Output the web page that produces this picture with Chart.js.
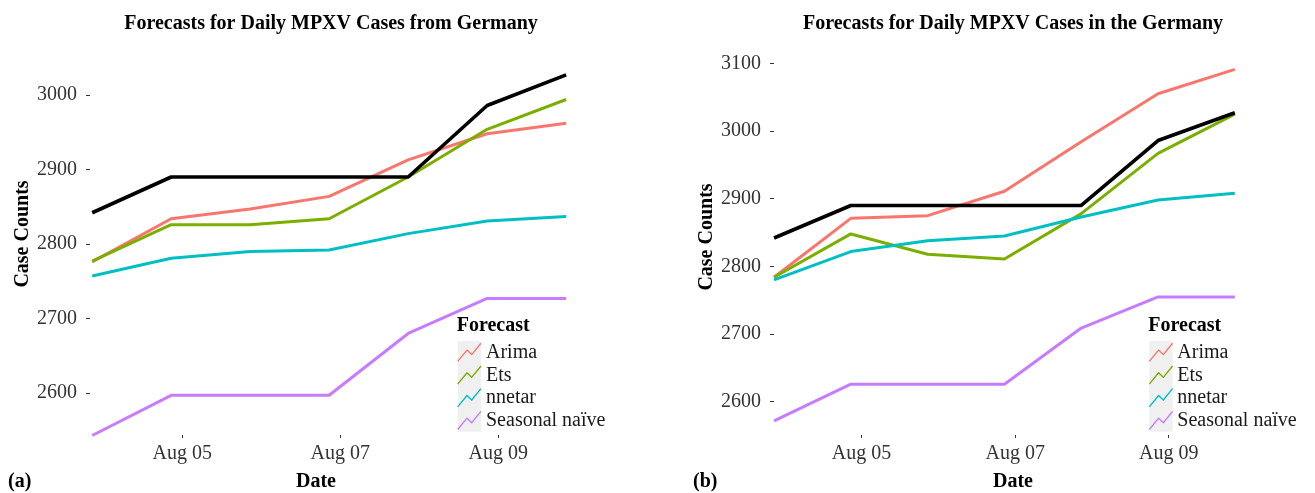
<!DOCTYPE html>
<html>
<head>
<meta charset="utf-8">
<script src="https://cdn.jsdelivr.net/npm/chart.js@4.4.0/dist/chart.umd.min.js"></script>
<style>
  html, body { margin: 0; padding: 0; background: #ffffff; width: 1315px; height: 493px; overflow: hidden; }
  canvas { position: absolute; top: 0; }
  #panelA { left: 0; }
  #panelB { left: 657px; }
</style>
</head>
<body>
<canvas id="panelA" width="657" height="493"></canvas>
<canvas id="panelB" width="658" height="493"></canvas>
<script>
// Forecast dates, as fractional day of August 2022
const forecastDays = [3.86, 4.86, 5.86, 6.86, 7.86, 8.86, 9.86];
const dateTickDays = [5, 7, 9];
const dateTickLabels = ['Aug 05', 'Aug 07', 'Aug 09'];

const methodNames = ['Arima', 'Ets', 'nnetar', 'Seasonal naïve'];
const methodColors = ['#F8766D', '#7CAE00', '#00BFC4', '#C77CFF'];

// Observed daily case counts
const observed = [2842, 2890, 2890, 2890, 2890, 2986, 3027];

// Panel (a) forecasts
const arimaA  = [2776, 2834, 2847, 2864, 2913, 2948, 2962];
const etsA    = [2777, 2826, 2826, 2834, 2890, 2954, 2994];
const nnetarA = [2757, 2781, 2790, 2792, 2814, 2831, 2837];
const snaiveA = [2543, 2597, 2597, 2597, 2680, 2727, 2727];
const caseTicksA = [2600, 2700, 2800, 2900, 3000];

// Panel (b) forecasts
const arimaB  = [2784, 2871, 2875, 2911, 2984, 3055, 3091];
const etsB    = [2784, 2848, 2818, 2811, 2878, 2967, 3025];
const nnetarB = [2780, 2822, 2838, 2845, 2873, 2898, 2908];
const snaiveB = [2572, 2626, 2626, 2626, 2709, 2755, 2755];
const caseTicksB = [2600, 2700, 2800, 2900, 3000, 3100];

const SERIF = "'Liberation Serif', 'Times New Roman', serif";

function toPoints(values) {
  return values.map((v, i) => ({ x: forecastDays[i], y: v }));
}

function lineSet(label, values, color, width, inLegend) {
  return {
    label, data: toPoints(values), borderColor: color, backgroundColor: color,
    borderWidth: width, pointRadius: 0, tension: 0, fill: false, clip: false,
    borderCapStyle: 'butt', borderJoinStyle: 'round', inLegend
  };
}

// Titles, axis titles, panel tag and the in-panel "Forecast" legend
const panelDecor = {
  id: 'panelDecor',
  afterDraw(chart, args, o) {
    const ctx = chart.ctx;
    ctx.save();
    ctx.fillStyle = '#000';
    ctx.textBaseline = 'alphabetic';
    ctx.font = `bold 20px ${SERIF}`;
    ctx.textAlign = 'center';
    ctx.fillText(o.title, o.titleX, o.titleY);
    ctx.fillText('Date', o.dateX, o.dateY);
    ctx.textAlign = 'left';
    ctx.fillText(o.tag, o.tagX, o.dateY);
    ctx.save();
    ctx.translate(o.yTitleX, o.yTitleY);
    ctx.rotate(-Math.PI / 2);
    ctx.textAlign = 'center';
    ctx.fillText('Case Counts', 0, 0);
    ctx.restore();

    // legend
    const items = chart.data.datasets.filter(d => d.inLegend)
      .sort((a, b) => methodNames.indexOf(a.label) - methodNames.indexOf(b.label));
    const kw = 23.3, kh = 22.7;
    ctx.textAlign = 'left';
    ctx.fillText('Forecast', o.legendX, o.legendTitleY);
    ctx.fillStyle = '#f0f0f0';
    ctx.fillRect(o.legendX + 1, o.keyTop, kw, kh * items.length);
    const zig = [[0, 0.9], [0.4, 0.4], [0.6, 0.6], [1, 0.1]];
    ctx.font = `20px ${SERIF}`;
    items.forEach((d, i) => {
      const x0 = o.legendX + 1, y0 = o.keyTop + i * kh;
      ctx.strokeStyle = d.borderColor;
      ctx.lineWidth = 1.4;
      ctx.lineJoin = 'round';
      ctx.beginPath();
      zig.forEach(([px, py], j) => {
        const X = x0 + px * kw, Y = y0 + py * kh;
        if (j === 0) ctx.moveTo(X, Y); else ctx.lineTo(X, Y);
      });
      ctx.stroke();
      ctx.fillStyle = '#1a1a1a';
      ctx.fillText(d.label, o.labelX, y0 + kh / 2 + 5.5);
    });
    ctx.restore();
  }
};

function makePanel(id, series, caseTicks, geom, decor) {
  const datasets = [
    lineSet('Actual', observed, '#000000', 3.6, false),
    lineSet(methodNames[3], series[3], methodColors[3], 3, true),
    lineSet(methodNames[2], series[2], methodColors[2], 3, true),
    lineSet(methodNames[1], series[1], methodColors[1], 3, true),
    lineSet(methodNames[0], series[0], methodColors[0], 3, true)
  ];
  const canvas = document.getElementById(id);
  return new Chart(canvas, {
    type: 'line',
    data: { datasets },
    plugins: [panelDecor],
    options: {
      responsive: false,
      animation: false,
      devicePixelRatio: 1,
      layout: { padding: { top: geom.top, right: canvas.width - geom.right, left: 0, bottom: 0 } },
      plugins: {
        legend: { display: false },
        tooltip: { enabled: false },
        title: { display: false },
        panelDecor: decor
      },
      scales: {
        x: {
          type: 'linear',
          min: geom.xMin, max: geom.xMax,
          afterBuildTicks: s => { s.ticks = dateTickDays.map(v => ({ value: v })); },
          afterFit: s => { s.height = canvas.height - geom.bottom; },
          ticks: {
            callback: v => dateTickLabels[dateTickDays.indexOf(v)],
            font: { family: SERIF, size: 20 }, color: '#333', padding: 4,
            maxRotation: 0, autoSkip: false
          },
          grid: { display: true, drawOnChartArea: false, drawTicks: true, tickLength: 3, color: '#333', lineWidth: 1 },
          border: { display: false }
        },
        y: {
          type: 'linear',
          min: geom.yMin, max: geom.yMax,
          afterBuildTicks: s => { s.ticks = caseTicks.map(v => ({ value: v })); },
          afterFit: s => { s.width = geom.left; },
          ticks: {
            callback: v => String(v),
            font: { family: SERIF, size: 20 }, color: '#333', padding: 9
          },
          grid: { display: true, drawOnChartArea: false, drawTicks: true, tickLength: 3.5, color: '#333', lineWidth: 1 },
          border: { display: false }
        }
      }
    }
  });
}

makePanel('panelA', [arimaA, etsA, nnetarA, snaiveA], caseTicksA,
  { left: 89.5, right: 569.3, top: 70, bottom: 435, xMin: 3.826, xMax: 9.9, yMin: 2543.7, yMax: 3033.6 },
  { title: 'Forecasts for Daily MPXV Cases from Germany', titleX: 331, titleY: 29,
    dateX: 316, dateY: 487, tag: '(a)', tagX: 8, yTitleX: 28, yTitleY: 234,
    legendX: 456.7, legendTitleY: 330.7, keyTop: 341, labelX: 486 });

makePanel('panelB', [arimaB, etsB, nnetarB, snaiveB], caseTicksB,
  { left: 116.5, right: 580.9, top: 55, bottom: 435, xMin: 3.853, xMax: 9.9, yMin: 2551, yMax: 3112.3 },
  { title: 'Forecasts for Daily MPXV Cases in the Germany', titleX: 356, titleY: 29,
    dateX: 356, dateY: 487, tag: '(b)', tagX: 36, yTitleX: 54.5, yTitleY: 237,
    legendX: 491.3, legendTitleY: 330.7, keyTop: 341, labelX: 520.3 });
</script>
</body>
</html>
